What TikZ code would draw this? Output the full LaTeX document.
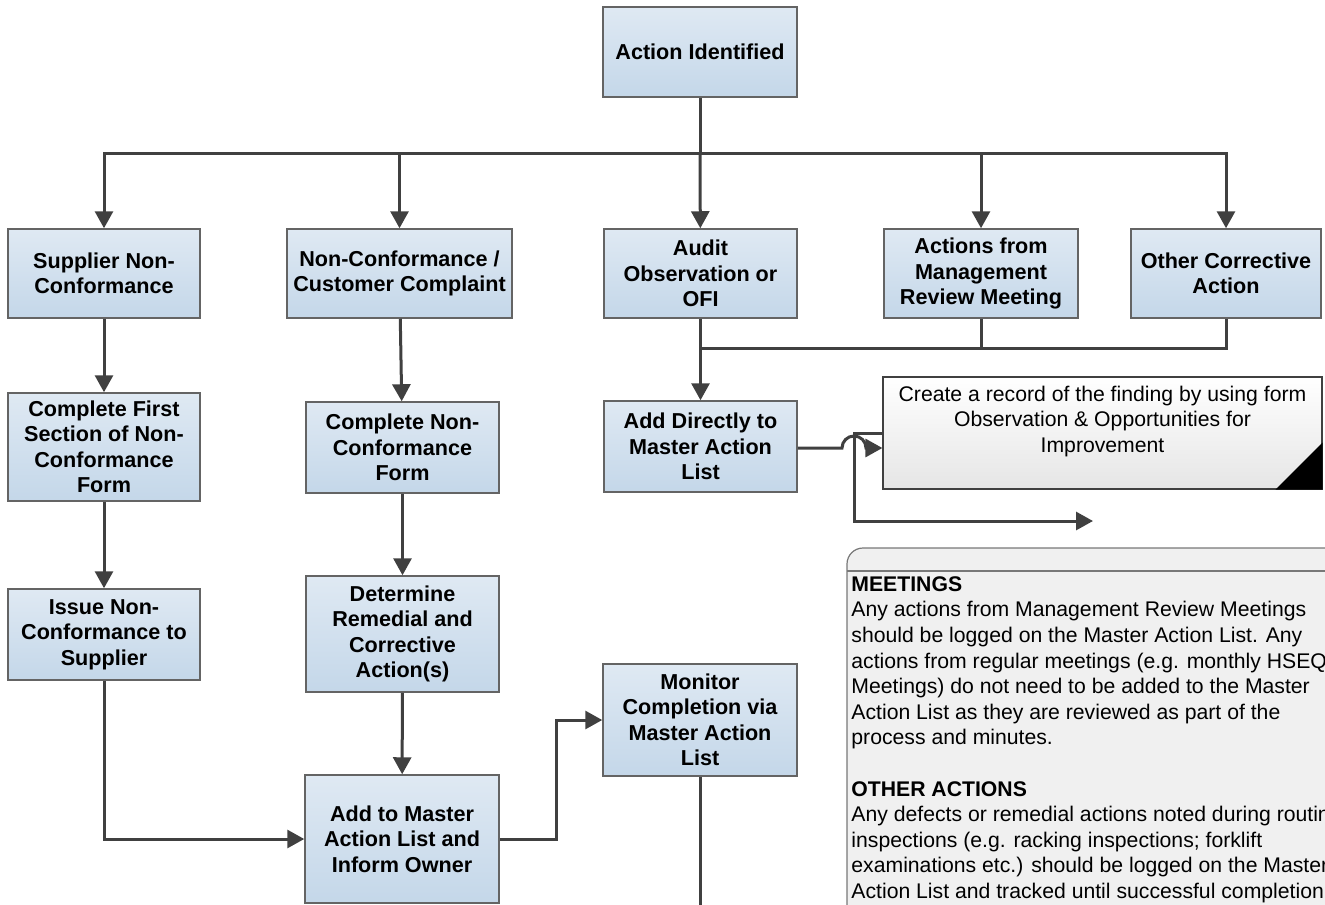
\documentclass[tikz,border=0pt]{standalone}
\usepackage{fontspec}
\setmainfont{Liberation Sans}
\usepackage{tikz}
\usetikzlibrary{shapes,arrows.meta,positioning}
\usepackage{xcolor}
\definecolor{wire}{RGB}{64,64,64}
\definecolor{boxedge}{RGB}{100,100,100}
\definecolor{boxtop}{RGB}{223,233,243}
\definecolor{boxbottom}{RGB}{196,215,233}
\definecolor{panelfill}{RGB}{240,240,240}
\definecolor{paneledge}{RGB}{120,120,120}
\tikzset{
  box/.style={draw=boxedge, line width=0.75pt, top color=boxtop, bottom color=boxbottom,
    align=center, font=\fontsize{10.8}{12.75}\selectfont\bfseries, inner sep=0pt},
  note/.style={draw=wire, line width=0.6pt, top color=white, bottom color=black!10, inner sep=0pt},
  conn/.style={draw=wire, line width=1.5pt},
  arr/.style={conn, -{Triangle[length=8.5pt,width=9pt]}},
}

\begin{document}
\begin{tikzpicture}[x=0.5pt,y=-0.5pt,font=\fontsize{10.6}{12.8}\selectfont]
            \useasboundingbox (0,0) rectangle (1325,904);
            \clip (0,0) rectangle (1325,904);
            % top
            \node[box, minimum width=97pt, minimum height=45pt] (act) at (700,52) {Action Identified};
            % row of sources
            \node[box, minimum width=96pt, minimum height=44.5pt] (sup) at (104,273.5) {Supplier Non-\\Conformance};
            \node[box, minimum width=112.5pt, minimum height=44.5pt] (ncc) at (399.5,273.5) {Non-Conformance /\\Customer Complaint};
            \node[box, minimum width=96.5pt, minimum height=44.5pt] (aud) at (700.5,273.5) {Audit\\Observation or\\OFI};
            \node[box, minimum width=97pt, minimum height=44.5pt] (mgt) at (981,273.5) {Actions from\\Management\\Review Meeting};
            \node[box, minimum width=95pt, minimum height=44.5pt] (oth) at (1226,273.5) {Other Corrective\\Action};
            % steps
            \node[box, minimum width=96pt, minimum height=54pt] (cf1) at (104,447) {Complete First\\Section of Non-\\Conformance\\Form};
            \node[box, minimum width=96.5pt, minimum height=45.5pt] (cnc) at (402.5,447.5) {Complete Non-\\Conformance\\Form};
            \node[box, minimum width=96.5pt, minimum height=45.5pt] (add) at (700.5,446.5) {Add Directly to\\Master Action\\List};
            \node[box, minimum width=96pt, minimum height=45.5pt] (iss) at (104,634.5) {Issue Non-\\Conformance to\\Supplier};
            \node[box, minimum width=96.5pt, minimum height=58pt] (det) at (402.5,634) {Determine\\Remedial and\\Corrective\\Action(s)};
            \node[box, minimum width=97pt, minimum height=56pt] (mon) at (700,720) {Monitor\\Completion via\\Master Action\\List};
            \node[box, minimum width=97pt, minimum height=64pt] (atm) at (402,839) {Add to Master\\Action List and\\Inform Owner};
            % note
            \node[note, minimum width=219.5pt, minimum height=56pt] (note) at (1102.5,433) {};
            \node[anchor=north, align=center, inner sep=0pt] (notetxt) at ([yshift=-4.5pt]note.north) {Create a record of the finding by using form\\Observation \& Opportunities for\\Improvement};
            \fill[black] (note.south east) -- ++(0,-47) -- ++(-47,47) -- cycle;
            % panel
            \draw[draw=paneledge, line width=0.6pt, fill=panelfill, rounded corners=8pt] (847,1000) -- (847,548) -- (1400,548) -- (1400,1000);
            \draw[draw=paneledge, line width=0.6pt] (847,571) -- (1400,571);
            \node[anchor=north west, align=left, inner sep=0pt] (memo) at (851,576) {\textbf{MEETINGS}\\
              Any actions from Management Review Meetings\\
              should be logged on the Master Action List. Any\\
              actions from regular meetings (e.g. monthly HSEQ\\
              Meetings) do not need to be added to the Master\\
              Action List as they are reviewed as part of the\\
              process and minutes.\\[12.8pt]
              \textbf{OTHER ACTIONS}\\
              Any defects or remedial actions noted during routine\\
              inspections (e.g. racking inspections; forklift\\
              examinations etc.) should be logged on the Master\\
              Action List and tracked until successful completion.};
            % helper points
            \coordinate (bus) at (700,153);
            \coordinate (mrg) at (700,348);
            \coordinate (knee) at (556,720);
            \coordinate (hop) at (854,448);
            \coordinate (tap) at (854,521);
            \coordinate (fbend) at (1093,521);
            \coordinate (monend) at (700,920);
            % connectors
            \draw[conn] (act) -- (bus);
            \foreach \n in {sup,ncc,mgt,oth} \draw[arr] (bus) -| (\n);
            \draw[arr] (bus) -- (aud);
            \draw[conn] (mgt) |- (mrg);
            \draw[conn] (oth) |- (mrg);
            \draw[arr] (aud) -- (add);
            \draw[arr] (sup) -- (cf1);
            \draw[arr] (cf1) -- (iss);
            \draw[arr] (iss) |- (atm);
            \draw[arr] (ncc) -- (cnc);
            \draw[arr] (cnc) -- (det);
            \draw[arr] (det) -- (atm);
            \draw[arr] (atm) -| (knee) -- (mon);
            \draw[conn] (mon) -- (monend);
            \draw[arr] (note.west) -| (tap) -- (fbend);
            \draw[arr] (add.east |- hop) -- ([xshift=-6pt]hop) arc[start angle=180,end angle=0,radius=6pt] -- (note.west |- hop);
\end{tikzpicture}
\end{document}
